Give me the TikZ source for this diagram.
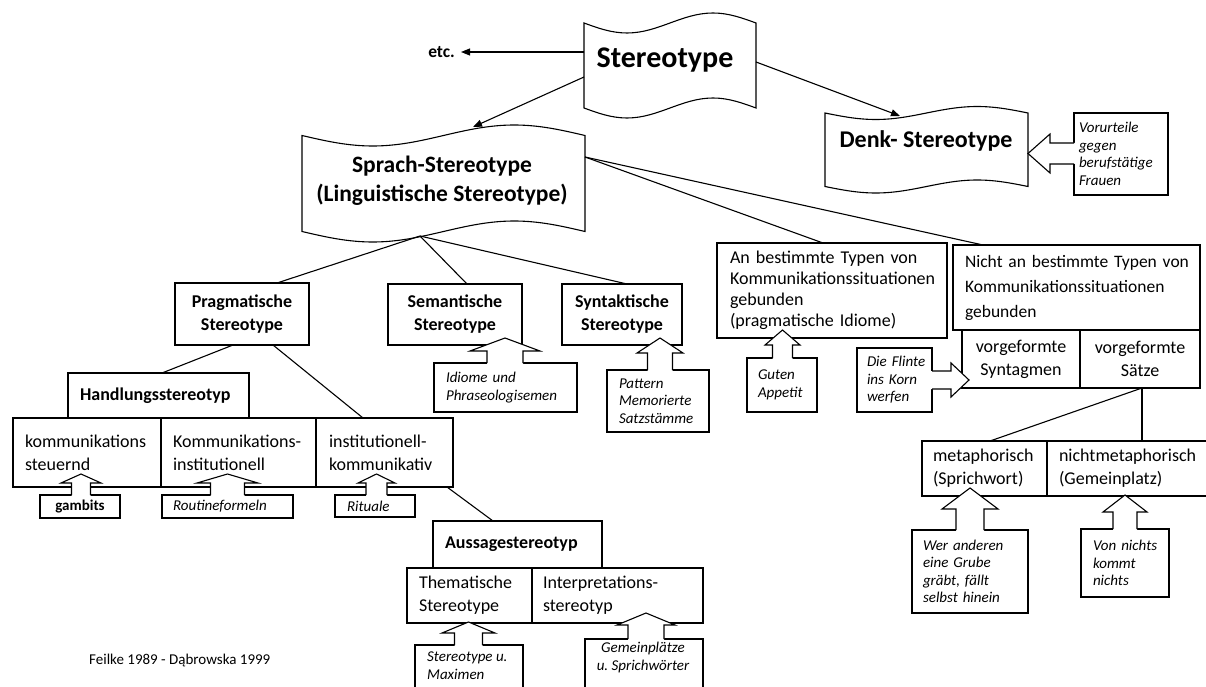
\documentclass[tikz,border=0pt]{standalone}
\usepackage{fontspec}
\setmainfont{Carlito}
\usetikzlibrary{arrows.meta,calc}

% box with text: [pad]{style}{name}{x0}{y0}{x1}{y1}{text}
\newcommand\bx[8][12]{%
  \pgfmathsetmacro\bxw{#6-#4}%
  \pgfmathsetmacro\bxh{#7-#5}%
  \pgfmathsetmacro\bxt{#6-#4-2*#1}%
  \node[box,#2,minimum width=\bxw pt,minimum height=\bxh pt,text width=\bxt pt,inner xsep=#1 pt]
    (#3) at ({(#4+#6)/2},{(#5+#7)/2}) {#8};}

% wavy banner: {name}{x0}{y0}{x1}{y1}{amplitude}
\newcommand\wave[6]{%
  \pgfmathsetmacro\wvw{#4-#2}%
  \pgfmathsetmacro\wvh{#5-#3}%
  \pgfmathsetmacro\wvt{#3+#6}%
  \pgfmathsetmacro\wvb{#5-#6}%
  \pgfmathsetmacro\wvq{(#4-#2)/4}%
  \node[inner sep=0pt,outer sep=0pt,minimum width=\wvw pt,minimum height=\wvh pt]
    (#1) at ({(#2+#4)/2},{(#3+#5)/2}) {};
  \draw[ln] (#2,\wvt) sin ++(\wvq,#6) cos ++(\wvq,-#6) sin ++(\wvq,-#6) cos ++(\wvq,#6)
    -- (#4,\wvb) sin ++(-\wvq,-#6) cos ++(-\wvq,#6) sin ++(-\wvq,#6) cos ++(-\wvq,-#6) -- cycle;}

% vertical block arrow: {cx}{tip y}{head half}{head base y}{shaft half}{shaft end y}
\newcommand\blkv[6]{%
  \pgfmathsetmacro\bke{#6>#4 ? #6+1.5 : #6-1.5}%
  \fill[white] (#1-#5,\bke) -- (#1-#5,#4) -- (#1-#3,#4) -- (#1,#2) -- (#1+#3,#4) -- (#1+#5,#4) -- (#1+#5,\bke) -- cycle;
  \draw[ln,line join=miter] (#1-#5,#6) -- (#1-#5,#4) -- (#1-#3,#4) -- (#1,#2) -- (#1+#3,#4) -- (#1+#5,#4) -- (#1+#5,#6);}

% horizontal block arrow: {cy}{tip x}{head half}{head base x}{shaft half}{shaft end x}
\newcommand\blkh[6]{%
  \pgfmathsetmacro\bke{#6>#4 ? #6+1.5 : #6-1.5}%
  \fill[white] (\bke,#1-#5) -- (#4,#1-#5) -- (#4,#1-#3) -- (#2,#1) -- (#4,#1+#3) -- (#4,#1+#5) -- (\bke,#1+#5) -- cycle;
  \draw[ln,line join=miter] (#6,#1-#5) -- (#4,#1-#5) -- (#4,#1-#3) -- (#2,#1) -- (#4,#1+#3) -- (#4,#1+#5) -- (#6,#1+#5);}

\begin{document}
\hyphenpenalty=10000
\exhyphenpenalty=10000
\begin{tikzpicture}[x=1pt,y=-1pt,
  ln/.style={line width=1.1pt},
  box/.style={draw,line width=1.1pt,inner ysep=0pt,outer sep=0pt},
  bfb/.style={font=\fontsize{18}{23}\selectfont\bfseries},
  sbf/.style={font=\fontsize{15}{18}\selectfont\bfseries},
  rgb/.style={font=\fontsize{18}{23}\selectfont},
  itb/.style={font=\fontsize{15}{17.5}\selectfont\itshape},
  arr/.style={line width=1.1pt,-{Triangle[length=9pt,width=7pt]}},
]
\fill[white] (0,0) rectangle (1206,687);
\useasboundingbox (0,0) rectangle (1206,687);

% banners
\wave{st}{584}{13}{756}{118}{10}
\wave{dk}{825}{106.5}{1028}{193}{6.5}
\wave{sp}{302}{125}{585}{242}{10.5}
\node[font=\fontsize{30}{34}\selectfont\bfseries] (stt) at (665,60) {Stereotype};
\node[font=\fontsize{24}{28}\selectfont\bfseries] (dkt) at (926,141) {Denk- Stereotype};
\node[font=\fontsize{23.5}{29}\selectfont\bfseries,align=center] (spt) at (442,181) {Sprach-Stereotype\\(Linguistische Stereotype)};
\node[font=\fontsize{17.5}{20}\selectfont\bfseries,anchor=east,inner xsep=6pt] (etc) at (461,52) {etc.};

% boxes
\bx[5]{itb,align=left}{vu}{1074}{113}{1168}{195}{Vorurteile\\gegen\\berufstätige\\Frauen}
\bx{bfb,align=center}{pr}{175}{283}{309}{345}{Pragmatische\\Stereotype}
\bx{bfb,align=center}{se}{388}{284}{522}{345}{Semantische\\Stereotype}
\bx{bfb,align=center}{sy}{562}{284}{682}{345}{Syntaktische\\Stereotype}
\bx{bfb,align=left}{hs}{68}{373}{249}{418}{Handlungsstereotyp}
\bx{rgb,align=left}{k1}{13}{418}{161}{487}{kommunikations\\steuernd}
\bx{rgb,align=left}{k2}{161}{418}{316}{487}{Kommunikations-\\institutionell}
\bx[13]{rgb,align=left}{ik}{316}{418}{453}{487}{institutionell-\\kommunikativ}
\bx[6]{sbf,align=center}{gb}{40}{495}{120}{518}{gambits}
\bx[11]{itb,align=left}{rf}{162}{495}{293}{518}{Routineformeln}
\bx[12]{itb,align=left}{ri}{335}{495}{415}{517}{Rituale}
\bx[12]{itb,align=left}{id}{434}{363}{577}{412}{Idiome~und\\Phraseologisemen}
\bx[12]{itb,align=left}{pt}{607}{370}{709}{432}{Pattern\\Memorierte\\Satzstämme}
\bx[13]{rgb,font=\fontsize{18}{21}\selectfont,align=left}{ab}{717}{243}{947}{338}{An~bestimmte~Typen~von\\Kommunikationssituationen\\gebunden\\(pragmatische~Idiome)}
\bx[11]{itb,align=left}{ga}{747}{358}{817}{412}{Guten\\Appetit}
\bx[12]{rgb,font=\fontsize{17.5}{25}\selectfont,align=left}{na}{953}{245}{1200}{330}{Nicht~an~bestimmte~Typen~von\\Kommunikationssituationen\\gebunden}
\bx[6]{rgb,align=center}{vf}{962}{330}{1080}{388}{vorgeformte\\Syntagmen}
\bx[6]{rgb,align=center}{vs}{1080}{330}{1200}{388}{vorgeformte\\Sätze}
\bx[10]{itb,align=left}{df}{857}{348}{932}{412}{Die~Flinte\\ins~Korn\\werfen}
\bx[11]{rgb,align=left}{mp}{922}{441}{1047}{496}{metaphorisch\\(Sprichwort)}
\bx[12]{rgb,align=left}{nm}{1047}{441}{1207}{496}{nichtmetaphorisch\\(Gemeinplatz)}
\bx[11]{itb,align=left}{wa}{912}{530}{1028}{613}{Wer~anderen\\eine~Grube\\gräbt,~fällt\\selbst~hinein}
\bx[12]{itb,align=left}{vn}{1081}{529}{1169}{597}{Von~nichts\\kommt\\nichts}
\bx[12]{bfb,align=left}{as}{433}{521}{602}{568}{Aussagestereotyp}
\bx[12]{rgb,align=left}{th}{407}{568}{532}{623}{Thematische\\Stereotype}
\bx[11]{rgb,align=left}{ip}{532}{568}{703}{623}{Interpretations-\\stereotyp}
\node[box,minimum width=108pt,minimum height=50pt,anchor=north west] (sm) at (415,645) {};
\node[itb,align=left,anchor=north west,inner sep=0pt] (smt) at (427,652) {Stereotype~u.\\Maximen};
\node[box,minimum width=118pt,minimum height=55pt,anchor=north west] (gp) at (585,639) {};
\node[itb,align=center,anchor=north,inner sep=0pt] (gpt) at (643,642) {Gemeinplätze\\u.~Sprichwörter};

\node[font=\fontsize{15}{18}\selectfont,anchor=base west,inner sep=0pt] (src) at (89,664) {Feilke 1989 - Dąbrowska 1999};

% connectors
\draw[arr] ($(st.north west)+(0,39)$) -- (etc.east);
\draw[arr] ($(st.north west)+(0,64)$) -- ($(sp.north west)+(171,2)$);
\draw[arr] ($(st.north east)+(0,49)$) -- ($(dk.north west)+(75,9.5)$);
\coordinate (spb) at ($(sp.south west)+(118,-6)$);
\coordinate (spr) at ($(sp.north east)+(0,32)$);
\draw[ln] (spb) -- ($(pr.north west)+(102,0)$);
\draw[ln] (spb) -- ($(se.north west)+(79,0)$);
\draw[ln] (spb) -- ($(sy.north west)+(65,0)$);
\draw[ln] (spr) -- ($(ab.north west)+(106,0)$);
\draw[ln] (spr) -- ($(na.north west)+(30,0)$);
\draw[ln] ($(pr.south west)+(58,0)$) -- ($(hs.north west)+(94,0)$);
\draw[ln] ($(pr.south west)+(98,0)$) -- ($(ik.north west)+(47,0)$);
\draw[ln] ($(ik.south west)+(131,0)$) -- ($(as.north west)+(60,0)$);
\coordinate (vsb) at ($(vs.south west)+(62,0)$);
\draw[ln] (vsb) -- ($(mp.north west)+(68,0)$);
\draw[ln] (vsb) -- (vsb |- nm.north);

% block arrows
\blkh{153.5}{1028}{19.5}{1050}{10.5}{1074}
\blkh{380}{969}{17}{951}{9}{932}
\blkv{81}{474}{20}{483}{9.5}{495}
\blkv{227.5}{474}{30.5}{483}{17}{495}
\blkv{376.5}{474}{18.5}{483}{10.5}{495}
\blkv{505}{338}{35}{351}{18}{363}
\blkv{660}{338}{23}{353}{12.5}{370}
\blkv{782.5}{330}{17.5}{345}{10}{358}
\blkv{970}{488}{28}{509}{14}{530}
\blkv{1125}{495}{22}{512}{12}{529}
\blkv{468.5}{622}{26.5}{633}{14}{645}
\blkv{646}{613}{29}{625}{18}{639}
\end{tikzpicture}
\end{document}
